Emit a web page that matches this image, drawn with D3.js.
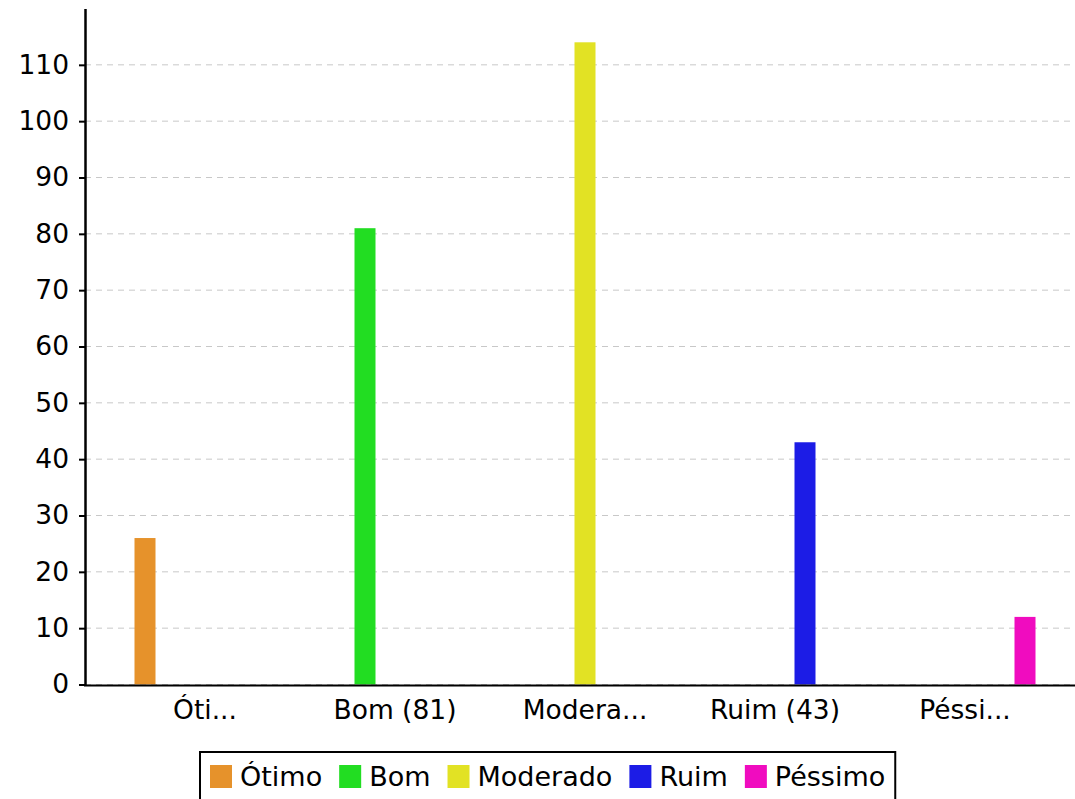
<!DOCTYPE html>
<html lang="pt">
<head>
    <meta charset="utf-8">
    <title>Qualidade</title>
    <style>
        body { margin: 0; background: #fff; }
        svg text { font-family: "DejaVu Sans", sans-serif; fill: #000; }
        .axis text { font-size: 26.5px; }
        .axis path, .axis line { stroke: #000; }
        .grid line { stroke: #c8c8c8; stroke-dasharray: 6,5; }
        .legend text { font-size: 27px; }
    </style>
</head>
<body>
<script src="https://cdn.jsdelivr.net/npm/d3@7"></script>
<script>
    // data
    const series = ["Ótimo", "Bom", "Moderado", "Ruim", "Péssimo"];
    const xLabels = ["Óti...", "Bom (81)", "Modera...", "Ruim (43)", "Péssi..."];
    const values = [26, 81, 114, 43, 12];
    const colors = ["#e6922b", "#22dd22", "#e2e224", "#1c1ce6", "#f00cbf"];
    const yTicks = [0, 10, 20, 30, 40, 50, 60, 70, 80, 90, 100, 110];

    const width = 1075, height = 799;
    const plotLeft = 85, plotRight = 1075, plotTop = 8.5, plotBottom = 684.5;

    const svg = d3.select("body").append("svg")
        .attr("width", width)
        .attr("height", height);

    const y = d3.scaleLinear().domain([0, 120]).range([plotBottom, plotTop]);

    // category bands, then one slot per series inside each band
    const x0 = d3.scaleBand().domain(xLabels).range([110, 1060]).padding(0);
    const x1 = d3.scaleBand().domain(series).range([0, x0.bandwidth()])
        .paddingInner(0.3).paddingOuter(0.8167);

    // grid
    svg.append("g").attr("class", "grid")
        .selectAll("line")
        .data(yTicks)
        .join("line")
            .attr("x1", plotLeft).attr("x2", plotRight)
            .attr("y1", d => y(d)).attr("y2", d => y(d));

    // bars: each category only has its own series
    svg.append("g")
        .selectAll("rect")
        .data(values)
        .join("rect")
            .attr("x", (d, i) => x0(xLabels[i]) + x1(series[i]))
            .attr("width", x1.bandwidth())
            .attr("y", d => y(d))
            .attr("height", d => y(0) - y(d))
            .attr("fill", (d, i) => colors[i]);

    // y axis
    svg.append("g").attr("class", "axis")
        .attr("transform", `translate(${plotLeft}, 0)`)
        .call(d3.axisLeft(y).tickValues(yTicks).tickSize(6).tickSizeOuter(0).tickPadding(10))
        .call(g => g.select(".domain").attr("stroke-width", 2.5))
        .call(g => g.selectAll(".tick line").attr("stroke-width", 2));

    // x axis
    svg.append("g").attr("class", "axis")
        .attr("transform", `translate(0, ${plotBottom})`)
        .call(d3.axisBottom(x0).tickSize(0).tickPadding(16))
        .call(g => g.select(".domain").remove());

    svg.append("line")
        .attr("x1", plotLeft - 1).attr("x2", plotRight)
        .attr("y1", plotBottom + 1).attr("y2", plotBottom + 1)
        .attr("stroke", "#000").attr("stroke-width", 2);

    // legend
    const legend = svg.append("g").attr("class", "legend");
    const box = legend.append("rect")
        .attr("x", 200).attr("y", 752)
        .attr("width", 697).attr("height", 60)
        .attr("fill", "#fff").attr("stroke", "#000").attr("stroke-width", 2);

    let lx = 210;
    series.forEach((s, i) => {
        legend.append("rect")
            .attr("x", lx).attr("y", 765)
            .attr("width", 22).attr("height", 23)
            .attr("fill", colors[i]);
        const t = legend.append("text")
            .attr("x", lx + 30).attr("y", 786)
            .text(s);
        lx += 30 + t.node().getComputedTextLength() + 17;
    });
    box.attr("width", lx - 17 + 10 - 200);
</script>
</body>
</html>
